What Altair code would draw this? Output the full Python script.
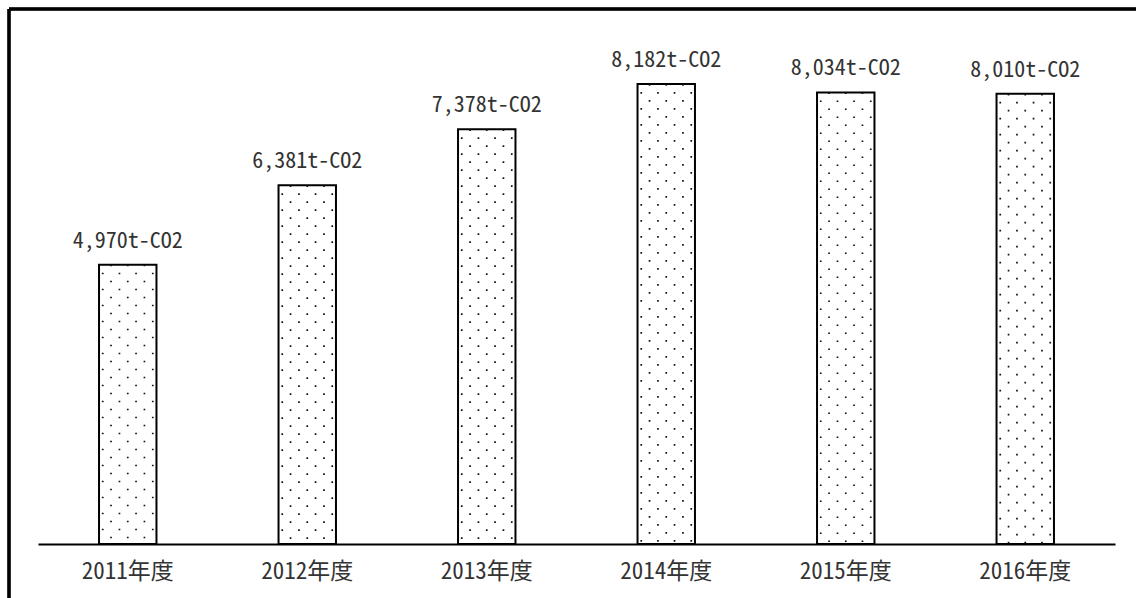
import altair as alt
import pandas as pd

years = ["2011年度", "2012年度", "2013年度", "2014年度", "2015年度", "2016年度"]
values = [4970, 6381, 7378, 8182, 8034, 8010]
labels = ["4,970t-CO2", "6,381t-CO2", "7,378t-CO2", "8,182t-CO2", "8,034t-CO2", "8,010t-CO2"]

df = pd.DataFrame({"year": years, "value": values, "label": labels})

FONT = "Noto Sans Mono CJK JP, Noto Sans CJK JP, DejaVu Sans Mono, monospace"

x = alt.X("year:N", sort=years, title=None,
          scale=alt.Scale(paddingInner=0.68, paddingOuter=0.34),
          axis=alt.Axis(labelAngle=0, ticks=False, domainColor="black", domainWidth=2,
                        labelFont=FONT, labelFontSize=23, labelColor="#333",
                        labelPadding=16, grid=False))
y = alt.Y("value:Q", title=None, scale=alt.Scale(domain=[0, 9500], nice=False),
          axis=None)

base = alt.Chart(df)

bars = base.mark_bar(fill="white", stroke="black", strokeWidth=2).encode(x=x, y=y)

dot_layers = []
for i, off in enumerate([-25, -16.7, -8.3, 0, 8.3, 16.7, 25]):
    phase = 0 if (i % 2 == 1) else 8
    dot_layers.append(
        base.mark_rule(xOffset=off, color="#111", strokeWidth=1.7,
                       strokeDash=[1.7, 14.3], strokeDashOffset=phase)
        .encode(x=x, y=y, y2=alt.datum(0))
    )

text = base.mark_text(baseline="alphabetic", dy=-17, font=FONT, fontSize=22,
                      color="#333").encode(x=x, y=y, text="label:N")

frame_top = base.mark_rule(color="black", strokeWidth=2.5).encode(
    x=alt.value(-29), x2=alt.value(1120), y=alt.value(-1), y2=alt.value(-1))
frame_left = base.mark_rule(color="black", strokeWidth=2.5).encode(
    x=alt.value(-29), x2=alt.value(-29), y=alt.value(-1), y2=alt.value(600))

chart = alt.layer(bars, *dot_layers, text, frame_top, frame_left).properties(
    width=1077, height=534,
    autosize=alt.AutoSizeParams(type="none"),
    padding={"left": 38, "top": 10, "right": 21, "bottom": 54},
).configure(background="white").configure_view(stroke=None)

chart.save("out.html", embed_options={"renderer": "svg", "actions": False})
